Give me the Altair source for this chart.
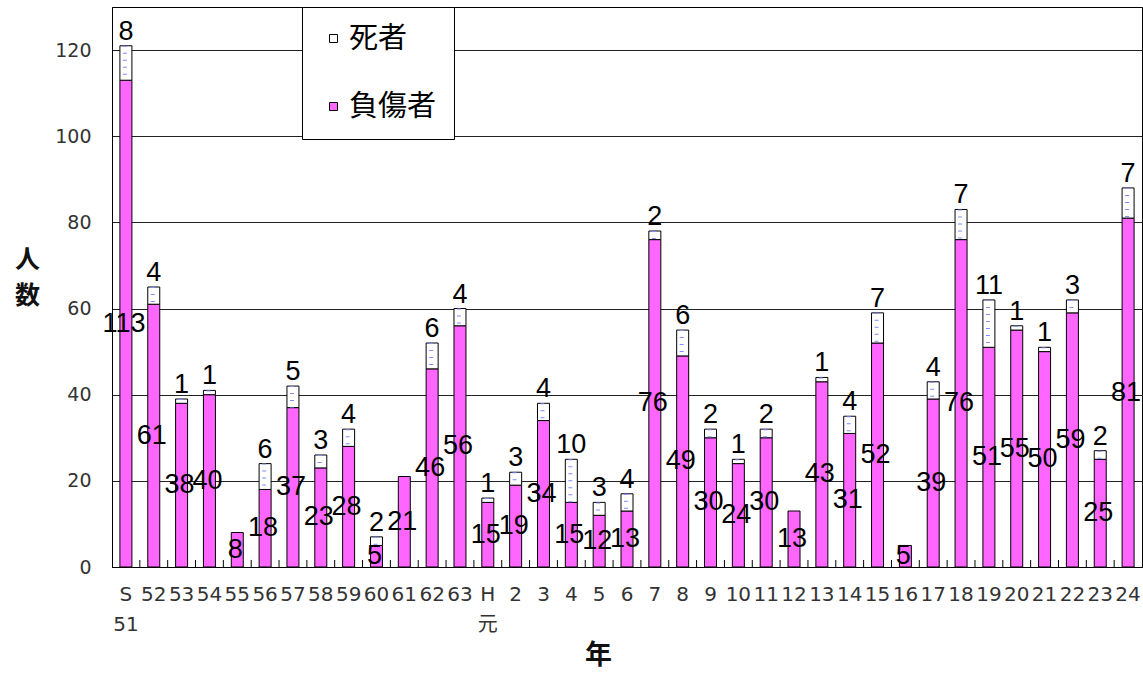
import altair as alt
import pandas as pd

years = ["S\n51", "52", "53", "54", "55", "56", "57", "58", "59", "60", "61", "62", "63",
         "H\n元", "2", "3", "4", "5", "6", "7", "8", "9", "10", "11", "12", "13", "14",
         "15", "16", "17", "18", "19", "20", "21", "22", "23", "24"]
injured = [113, 61, 38, 40, 8, 18, 37, 23, 28, 5, 21, 46, 56,
           15, 19, 34, 15, 12, 13, 76, 49, 30, 24, 30, 13, 43, 31,
           52, 5, 39, 76, 51, 55, 50, 59, 25, 81]
deaths = [8, 4, 1, 1, 0, 6, 5, 3, 4, 2, 0, 6, 4,
          1, 3, 4, 10, 3, 4, 2, 6, 2, 1, 2, 0, 1, 4,
          7, 0, 4, 7, 11, 1, 1, 3, 2, 7]
series_names = ["死者", "負傷者"]
series_colors = ["#FFFFFF", "#FF66FF"]
y_ticks = [0, 20, 40, 60, 80, 100, 120]

df = pd.DataFrame({"year": years, "injured": injured, "deaths": deaths})
df["total"] = df["injured"] + df["deaths"]
df["mid"] = df["injured"] / 2
df["idx"] = range(len(df))

NUM_FONT = "Liberation Sans, Noto Sans CJK JP"
AX_FONT = "DejaVu Sans, Noto Sans CJK JP"
CJK = "Noto Sans CJK JP"

yscale = alt.Scale(domain=[0, 130], nice=False)
xscale = alt.Scale(paddingInner=0, paddingOuter=0)
x_axis = alt.Axis(
    title="年", titleFont=CJK, titleFontSize=27, titleFontWeight="bold",
    titleColor="#111", titleX=486, titleY=88, titleBaseline="middle",
    titleAnchor="start", titleAlign="center",
    labelAngle=0, labelExpr="split(datum.label, '\\n')",
    labelFont=AX_FONT, labelFontSize=20, labelColor="#333",
    labelBaseline="top", labelPadding=17, labelLineHeight=30,
    ticks=False, domainColor="black", grid=False, labelOverlap=False,
)
y_axis = alt.Axis(
    values=y_ticks, grid=True, gridColor="#222", ticks=False,
    domainColor="black", labelFont=AX_FONT, labelFontSize=19,
    labelColor="#333", labelPadding=21,
    title=["人", "数"], titleAngle=0, titleFont=CJK,
    titleFontSize=25, titleFontWeight="bold", titleColor="#111",
    titleX=-85, titleY=252, titleAlign="center",
    titleBaseline="middle", titleLineHeight=36,
)

def X():
    return alt.X("year:N", sort=years, scale=xscale, axis=x_axis)

def Y(field):
    return alt.Y(field, scale=yscale, axis=y_axis)

fill_enc = alt.Fill(
    "s:N",
    scale=alt.Scale(domain=series_names, range=series_colors),
    legend=alt.Legend(
        title=None, orient="none", legendX=190, legendY=0,
        fillColor="white", strokeColor="black", padding=17,
        symbolType="square", symbolSize=64, symbolStrokeColor="black",
        symbolStrokeWidth=1, labelFont=CJK, labelFontSize=29,
        labelColor="black", labelOffset=1, rowPadding=38,
    ),
)

base = alt.Chart(df)

injured_bars = base.transform_calculate(s="'負傷者'").mark_bar(
    size=12, stroke="black", strokeWidth=1
).encode(
    x=X(),
    y=Y("injured:Q"),
    fill=fill_enc,
)

death_bars = base.transform_filter("datum.deaths > 0").transform_calculate(
    s="'死者'"
).mark_bar(size=12, stroke="black", strokeWidth=1).encode(
    x=X(),
    y=Y("total:Q"),
    y2="injured:Q",
    fill=fill_enc,
)

dashes = base.transform_filter("datum.deaths > 0").mark_rule(
    strokeWidth=4, strokeDash=[1, 6], color="#7f8cff", xOffset=-1
).encode(
    x=X(),
    y=Y("total:Q"),
    y2="injured:Q",
)

tick_marks = base.transform_filter("datum.idx > 0").mark_rule(
    color="black", strokeWidth=1, xOffset=-13.92
).encode(
    x=X(),
    y=alt.value(560),
    y2=alt.value(553),
)

injured_labels = base.mark_text(
    font=NUM_FONT, fontSize=27, color="black", dx=-2, baseline="middle"
).encode(
    x=X(),
    y=Y("mid:Q"),
    text="injured:Q",
)

death_labels = base.transform_filter("datum.deaths > 0").mark_text(
    font=NUM_FONT, fontSize=27, color="black", baseline="alphabetic", dy=-6
).encode(
    x=X(),
    y=Y("total:Q"),
    text="deaths:Q",
)

chart = alt.layer(
    injured_bars, death_bars, dashes, tick_marks, injured_labels, death_labels
).properties(
    width=1030, height=560,
    autosize=alt.AutoSizeParams(type="none"),
    padding={"left": 112, "top": 7, "right": 1, "bottom": 108},
    background="white",
).configure_view(stroke="black", strokeWidth=1)

chart.save("out.html", embed_options={"renderer": "svg", "actions": False})
